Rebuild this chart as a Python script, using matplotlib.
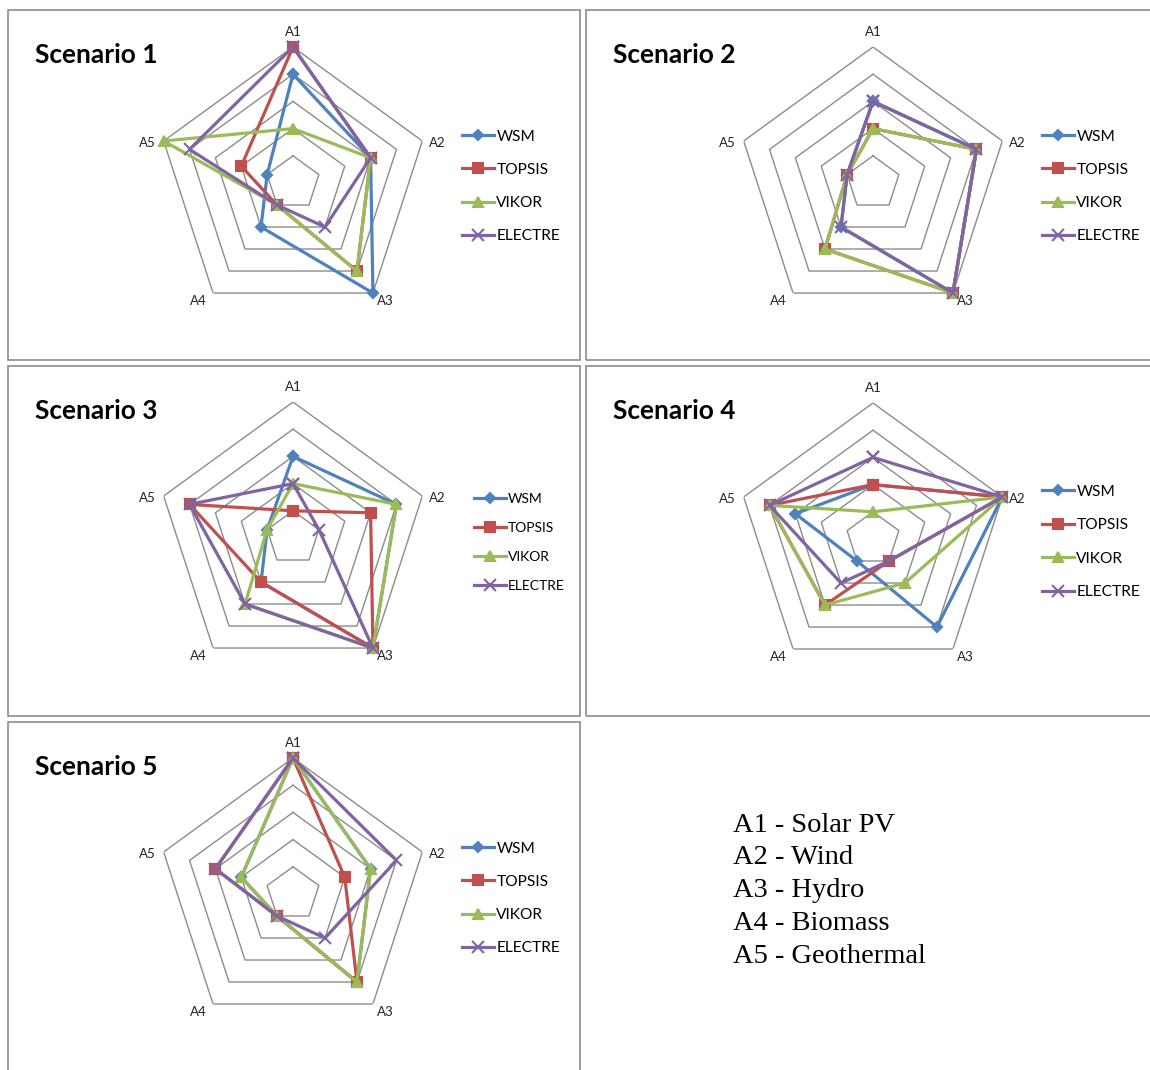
import numpy as np
import matplotlib
matplotlib.use("Agg")
from matplotlib import pyplot as plt
from matplotlib.patches import Rectangle

# ranks, order A1..A5
axes_labels = ['A1', 'A2', 'A3', 'A4', 'A5']
methods = ['WSM', 'TOPSIS', 'VIKOR', 'ELECTRE']
scenarios = ['Scenario 1', 'Scenario 2', 'Scenario 3', 'Scenario 4', 'Scenario 5']

wsm = [[4, 3, 5, 2, 1], [3, 4, 5, 2, 1], [3, 4, 5, 2, 1], [2, 5, 4, 1, 3], [5, 3, 4, 1, 2]]
topsis = [[5, 3, 4, 1, 2], [2, 4, 5, 3, 1], [1, 3, 5, 2, 4], [2, 5, 1, 3, 4], [5, 2, 4, 1, 3]]
vikor = [[2, 3, 4, 1, 5], [2, 4, 5, 3, 1], [2, 4, 5, 3, 1], [1, 5, 2, 3, 4], [5, 3, 4, 1, 2]]
electre = [[5, 3, 2, 1, 4], [3, 4, 5, 2, 1], [2, 1, 5, 3, 4], [3, 5, 1, 2, 4], [5, 4, 2, 1, 3]]

key_lines = ['A1 - Solar PV', 'A2 - Wind', 'A3 - Hydro', 'A4 - Biomass', 'A5 - Geothermal']

colors = ['#4F81BD', '#C0504D', '#9BBB59', '#8064A2']
markers = ['D', 's', '^', 'x']
msizes = [5, 6.5, 7, 8]

W, H = 1150, 1070
fig = plt.figure(figsize=(W / 100, H / 100), dpi=100)

# panel boxes (pixels: x0, y0, x1, y1) and chart centres
boxes = [(8, 10, 580, 360), (586, 10, 1160, 360), (8, 366, 580, 716),
         (586, 366, 1160, 716), (8, 722, 580, 1080)]
centres = [(293, 183), (873, 183), (293, 538), (873, 539), (293, 894)]
leg_x = [462, 1042, 474, 1042, 462]
leg_top = [135, 135, 497, 490, 847]
leg_fs = [11.2, 11.2, 10, 11.2, 11.2]
leg_sp = [33, 33, 29.3, 33.3, 33]
# label nudges in pixels (right, down) for A1..A5
lab_dx = [0, 1, 4, -6, -2]
lab_dy = [0, 7, -4, -4, 7]
R = 136

for (x0, y0, x1, y1) in boxes:
    fig.patches.append(Rectangle((x0 / W, 1 - y1 / H), (x1 - x0) / W, (y1 - y0) / H,
                                 transform=fig.transFigure, fill=False,
                                 edgecolor='#8c8c8c', lw=1.2))

theta = np.arange(5) * 2 * np.pi / 5
theta_c = np.append(theta, theta[0])
data = [wsm, topsis, vikor, electre]

for k in range(5):
    cx, cy = centres[k]
    ax = fig.add_axes([(cx - R) / W, 1 - (cy + R) / H, 2 * R / W, 2 * R / H],
                      projection='polar')
    ax.set_theta_offset(np.pi / 2)
    ax.set_theta_direction(-1)
    ax.set_ylim(0, 5)
    ax.grid(False)
    ax.spines['polar'].set_visible(False)
    ax.set_xticks([])
    ax.set_yticks([])
    ax.patch.set_alpha(0)
    for r in range(1, 6):
        ax.plot(theta_c, [r] * 6, color='#8c8c8c', lw=1.0, zorder=1)
    for i, lab in enumerate(axes_labels):
        ax.annotate(lab, xy=(theta[i], 5.55), xytext=(lab_dx[i] * 0.72, -lab_dy[i] * 0.72),
                    textcoords='offset points', ha='center', va='center',
                    fontsize=9.5, family='Lato', color='#222222', annotation_clip=False)
    handles = []
    for m in range(4):
        vals = data[m][k]
        vals_c = vals + vals[:1]
        ln, = ax.plot(theta_c, vals_c, color=colors[m], lw=2.3,
                      marker=markers[m], ms=msizes[m], mew=1.5, zorder=3 + m,
                      clip_on=False, label=methods[m])
        handles.append(ln)
    fig.text((boxes[k][0] + 27) / W, 1 - (boxes[k][1] + 45) / H, scenarios[k],
             fontsize=18.9, fontweight='bold', family='Lato', ha='left', va='center')
    fs = leg_fs[k]
    fpx = fs * 100 / 72
    fig.legend(handles=handles, labels=methods, loc='upper left',
               bbox_to_anchor=(leg_x[k] / W, 1 - (leg_top[k] + 4 - fpx * 0.6) / H),
               frameon=False, prop={'family': 'Lato', 'size': fs},
               handlelength=32 / fpx, handletextpad=0.15, borderpad=0,
               borderaxespad=0, labelspacing=(leg_sp[k] - fpx + 1.7) / fpx)

for i, line in enumerate(key_lines):
    fig.text(733 / W, 1 - (825 + i * 32.8) / H, line, fontsize=20.5,
             family='Liberation Serif', ha='left', va='center')

fig.savefig('out.png', dpi=100)
